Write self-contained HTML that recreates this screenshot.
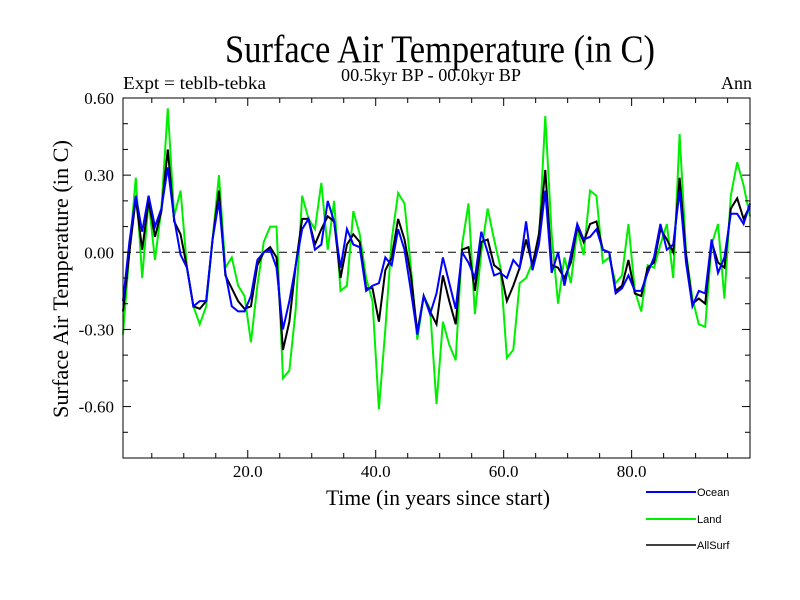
<!DOCTYPE html>
<html>
<head>
<meta charset="utf-8">
<style>
  html,body{margin:0;padding:0;background:#fff;}
  body{width:800px;height:600px;overflow:hidden;}
  svg{display:block;}
</style>
</head>
<body>
<svg id="chart" width="800" height="600" xmlns="http://www.w3.org/2000/svg">
  <text x="225" y="62" textLength="430" lengthAdjust="spacingAndGlyphs" font-family="Liberation Serif, serif" font-size="39">Surface Air Temperature (in C)</text>
  <text x="341" y="81" textLength="180" lengthAdjust="spacingAndGlyphs" font-family="Liberation Serif, serif" font-size="18">00.5kyr BP - 00.0kyr BP</text>
  <text x="123" y="89" textLength="143" lengthAdjust="spacingAndGlyphs" font-family="Liberation Serif, serif" font-size="18">Expt = teblb-tebka</text>
  <text x="752" y="89" text-anchor="end" font-family="Liberation Serif, serif" font-size="18">Ann</text>
  <text transform="translate(68,418) rotate(-90)" textLength="278" lengthAdjust="spacingAndGlyphs" font-family="Liberation Serif, serif" font-size="22">Surface Air Temperature (in C)</text>
  <text x="326" y="505" textLength="224" lengthAdjust="spacingAndGlyphs" font-family="Liberation Serif, serif" font-size="22">Time (in years since start)</text>
  <g id="plot"></g>
  <g id="legend"></g>
</svg>
<script>
const yearStart = 0.5;
const oceanValues = [-0.19,0.04,0.22,0.08,0.22,0.10,0.17,0.33,0.13,-0.01,-0.06,-0.21,-0.19,-0.19,0.05,0.20,-0.08,-0.21,-0.23,-0.23,-0.17,-0.03,0.00,0.01,-0.06,-0.30,-0.19,-0.05,0.09,0.13,0.01,0.03,0.20,0.12,-0.06,0.09,0.03,0.02,-0.15,-0.13,-0.12,-0.02,-0.05,0.09,0.01,-0.15,-0.32,-0.17,-0.24,-0.16,-0.02,-0.12,-0.22,0.00,-0.04,-0.10,0.08,0.00,-0.09,-0.08,-0.10,-0.03,-0.06,0.12,-0.07,0.03,0.24,-0.08,0.00,-0.13,-0.01,0.11,0.05,0.06,0.09,0.01,0.00,-0.16,-0.14,-0.09,-0.15,-0.15,-0.08,-0.02,0.11,0.01,0.03,0.24,-0.04,-0.21,-0.15,-0.16,0.05,-0.08,-0.02,0.15,0.15,0.11,0.19];
const landValues = [-0.32,0.00,0.29,-0.10,0.20,-0.03,0.17,0.56,0.14,0.24,-0.06,-0.21,-0.28,-0.21,0.05,0.30,-0.06,-0.02,-0.13,-0.17,-0.35,-0.13,0.04,0.10,0.10,-0.49,-0.46,-0.22,0.22,0.13,0.09,0.27,0.01,0.20,-0.15,-0.13,0.16,0.07,-0.10,-0.19,-0.61,-0.30,0.05,0.23,0.19,-0.06,-0.34,-0.17,-0.22,-0.59,-0.27,-0.36,-0.42,0.03,0.19,-0.24,0.00,0.17,0.05,-0.06,-0.41,-0.38,-0.12,-0.10,-0.04,0.04,0.53,0.07,-0.20,-0.02,-0.12,0.09,-0.01,0.24,0.22,-0.04,-0.02,-0.12,-0.09,0.11,-0.15,-0.23,-0.05,-0.06,0.03,0.11,-0.10,0.46,0.00,-0.18,-0.28,-0.29,0.03,0.11,-0.18,0.22,0.35,0.26,0.14];
const allSurfValues = [-0.23,0.00,0.21,0.01,0.20,0.06,0.16,0.40,0.12,0.07,-0.06,-0.21,-0.22,-0.19,0.05,0.24,-0.09,-0.14,-0.19,-0.22,-0.21,-0.05,0.00,0.02,-0.02,-0.38,-0.27,-0.05,0.13,0.13,0.03,0.09,0.14,0.12,-0.10,0.03,0.07,0.04,-0.14,-0.14,-0.27,-0.07,-0.02,0.13,0.05,-0.09,-0.31,-0.17,-0.23,-0.28,-0.09,-0.19,-0.28,0.01,0.02,-0.15,0.04,0.05,-0.05,-0.07,-0.19,-0.13,-0.06,0.05,-0.05,0.07,0.32,-0.05,-0.06,-0.10,-0.04,0.10,0.04,0.11,0.12,0.01,0.00,-0.15,-0.13,-0.03,-0.16,-0.17,-0.06,-0.04,0.09,0.05,0.00,0.29,-0.01,-0.20,-0.18,-0.20,0.04,-0.04,-0.06,0.17,0.21,0.13,0.18];
const yTickValues = [0.6,0.3,0.0,-0.3,-0.6];
const yTickLabels = ["0.60","0.30","0.00","-0.30","-0.60"];
const xTickValues = [20,40,60,80];
const xTickLabels = ["20.0","40.0","60.0","80.0"];
const seriesNames = ["Ocean","Land","AllSurf"];

const NS = "http://www.w3.org/2000/svg";
const L = 123, R = 750, T = 98, B = 458;
const xMin = 0.5, xMax = 98.5, yMin = -0.8, yMax = 0.6;
function xs(v){ return L + (v - xMin) / (xMax - xMin) * (R - L); }
function ys(v){ return T + (yMax - v) / (yMax - yMin) * (B - T); }
function mk(tag, attrs, parent){
  const e = document.createElementNS(NS, tag);
  for (const k in attrs) e.setAttribute(k, attrs[k]);
  parent.appendChild(e);
  return e;
}
const plot = document.getElementById('plot');
const svg = document.getElementById('chart');

const zl = mk('line', {x1:L, x2:R, y1:ys(0), y2:ys(0), stroke:'#000', 'stroke-width':1, 'stroke-dasharray':'8,5'}, plot);



const series = [
  {vals: landValues, color:'#00ee00', name:'land-series-line'},
  {vals: allSurfValues, color:'#000000', name:'allsurf-series-line'},
  {vals: oceanValues, color:'#0000ff', name:'ocean-series-line'}
];
series.forEach(s => {
  const pts = s.vals.map((v,i) => xs(yearStart + i).toFixed(2) + ',' + ys(v).toFixed(2)).join(' ');
  const pl = mk('polyline', {points: pts, fill:'none', stroke:s.color, 'stroke-width':2, 'stroke-linejoin':'miter'}, plot);
  
  
});

const fr = mk('rect', {x:L, y:T, width:R-L, height:B-T, fill:'none', stroke:'#000', 'stroke-width':1}, plot);



for (let k = -8; k <= 6; k++) {
  const v = k / 10;
  const major = (k % 3 === 0);
  const len = major ? 8 : 5;
  const y = ys(v);
  const t1 = mk('line', {x1:L, x2:L+len, y1:y, y2:y, stroke:'#000', 'stroke-width':1}, plot);
  
  
  const t2 = mk('line', {x1:R-len, x2:R, y1:y, y2:y, stroke:'#000', 'stroke-width':1}, plot);
  
  
}
yTickValues.forEach((v,i) => {
  const t = mk('text', {x:114, y:ys(v)+6, 'text-anchor':'end', 'font-family':'Liberation Serif, serif', 'font-size':17}, svg);
  t.textContent = yTickLabels[i];
  
  
});
for (let v = 5; v <= 95; v += 5) {
  const major = (v % 20 === 0);
  const len = major ? 8 : 5;
  const x = xs(v);
  const b1 = mk('line', {x1:x, x2:x, y1:B, y2:B-len, stroke:'#000', 'stroke-width':1}, plot);
  
  
  const b2 = mk('line', {x1:x, x2:x, y1:T, y2:T+len, stroke:'#000', 'stroke-width':1}, plot);
  
  
}
xTickValues.forEach((v,i) => {
  const t = mk('text', {x:xs(v), y:477, 'text-anchor':'middle', 'font-family':'Liberation Serif, serif', 'font-size':17}, svg);
  t.textContent = xTickLabels[i];
  
  
});

const legend = document.getElementById('legend');
const legColors = ['#0000ff', '#00ee00', '#000000'];
const legY = [492, 519, 545];
const legWidth = [2, 2, 1.5];
seriesNames.forEach((n,i) => {
  const ln = mk('line', {x1:646, x2:696, y1:legY[i], y2:legY[i], stroke:legColors[i], 'stroke-width':legWidth[i]}, legend);
  
  
  const tx = mk('text', {x:697, y:legY[i]+4, 'font-family':'Liberation Sans, sans-serif', 'font-size':11}, legend);
  tx.textContent = n;
  
  
});
</script>
</body>
</html>
